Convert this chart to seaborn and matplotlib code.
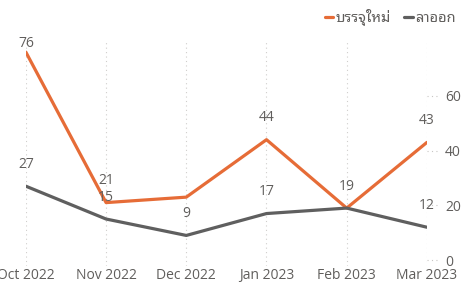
import matplotlib
matplotlib.use("Agg")
import matplotlib.pyplot as plt
from matplotlib.lines import Line2D
import seaborn as sns
import pandas as pd

months = ["Oct 2022", "Nov 2022", "Dec 2022", "Jan 2023", "Feb 2023", "Mar 2023"]
new_hires = [76, 21, 23, 44, 19, 43]
leavers = [27, 15, 9, 17, 19, 12]
new_show = [True, True, False, True, False, True]
leave_show = [True, True, True, True, True, True]
series_names = ["บรรจุใหม่", "ลาออก"]
yticks = [0, 20, 40, 60]

sns.set_theme(style="white")
plt.rcParams["font.family"] = ["Open Sans", "Noto Sans Thai Looped", "Noto Sans Thai", "DejaVu Sans"]

orange = "#E66C37"
gray = "#5F5F5F"
txt = "#605E5C"

df = pd.DataFrame({"month": months * 2,
                   "value": new_hires + leavers,
                   "series": [series_names[0]] * 6 + [series_names[1]] * 6})
df["x"] = list(range(6)) * 2

fig = plt.figure(figsize=(4.62, 2.88), dpi=100)
ax = fig.add_axes([0.056, 0.078, 0.868, 0.779])
sns.lineplot(data=df, x="x", y="value", hue="series", palette=[orange, gray],
             linewidth=2.3, ax=ax, legend=False, zorder=3)
ax.set_xlim(0, 5)
ax.set_ylim(-2, 80)
ax.set_xticks(range(6))
ax.set_xticklabels(months)
ax.set_yticks(yticks)
ax.yaxis.tick_right()
ax.tick_params(axis="y", length=0, pad=13, labelsize=10, colors=txt)
ax.tick_params(axis="x", length=0, pad=2, labelsize=10, colors=txt)
for s in ax.spines.values():
    s.set_visible(False)
ax.grid(False)
ax.set_xlabel("")
ax.set_ylabel("")
for i in range(6):
    ax.axvline(i, color="#D0CECC", linestyle=(0, (1, 3)), linewidth=0.8, zorder=1)
for yv in yticks:
    ax.plot([1.0, 1.03], [yv, yv], transform=ax.get_yaxis_transform(),
            color="#C8C6C4", linestyle=(0, (1, 3)), linewidth=0.8, clip_on=False)

for vals, show in ((new_hires, new_show), (leavers, leave_show)):
    for i, (v, s) in enumerate(zip(vals, show)):
        if not s:
            continue
        ly = min(v + 8, 79)
        ax.text(i, ly, str(v), ha="center", va="center", fontsize=10, color=txt, zorder=4)

handles = [Line2D([], [], color=orange, linewidth=2.3), Line2D([], [], color=gray, linewidth=2.3)]
fig.legend(handles, series_names, loc="upper right", bbox_to_anchor=(1.0, 0.99), ncol=2,
           frameon=False, handlelength=0.6, handletextpad=0.15, columnspacing=0.9,
           fontsize=10.5, labelcolor=txt, borderaxespad=0.05)
fig.savefig("out.png", dpi=100)
